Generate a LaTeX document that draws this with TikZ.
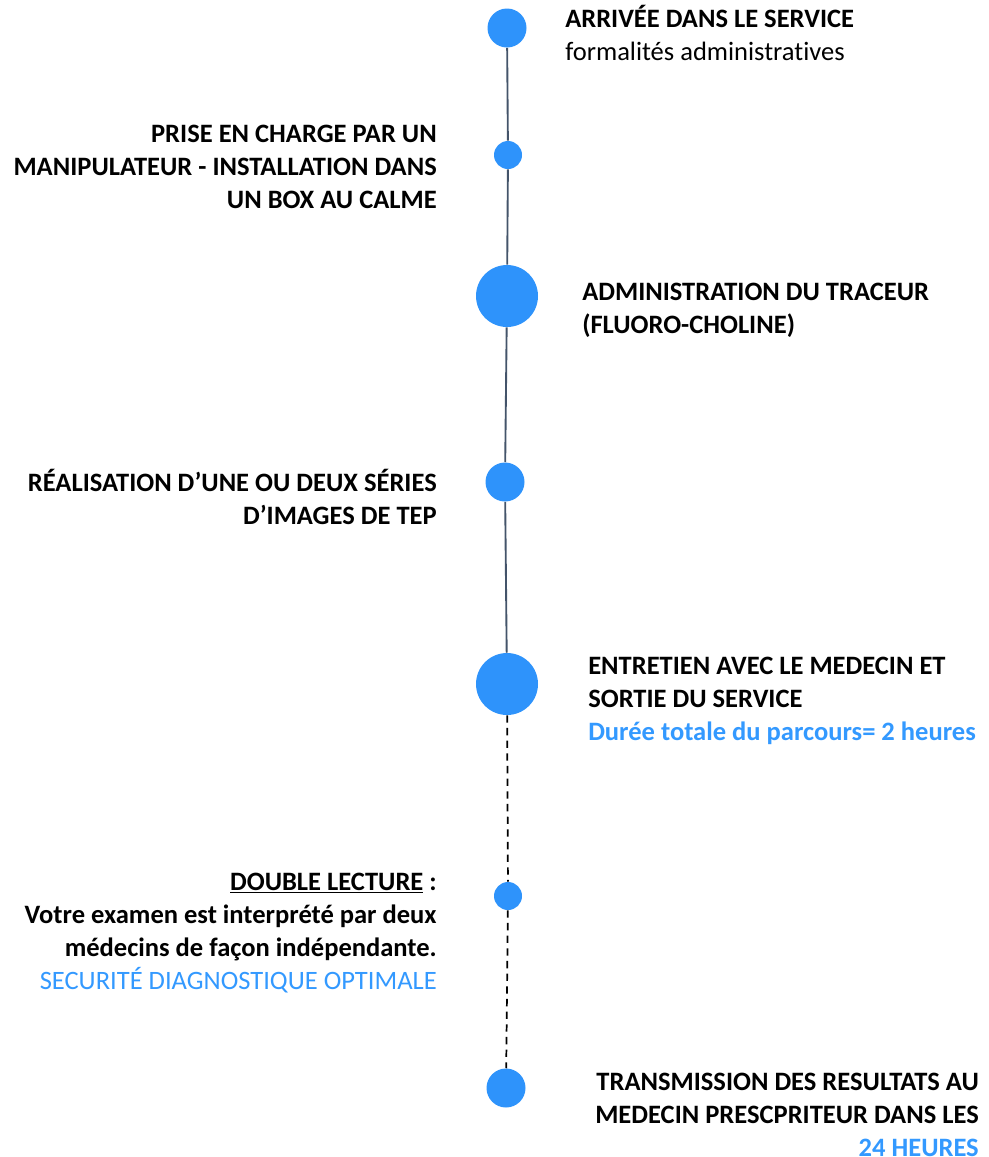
\documentclass[tikz,border=0pt]{standalone}
\usepackage{fontspec}
\setmainfont{Carlito}[Ligatures=NoCommon]
\definecolor{dotblue}{HTML}{2E93FB}
\definecolor{txtblue}{HTML}{3399FF}
\definecolor{slate}{HTML}{44546A}
\begin{document}
\begin{tikzpicture}[x=0.75pt,y=-0.75pt,
  dot/.style={circle,fill=dotblue,draw=none,inner sep=0pt,minimum size=#1*0.75pt},
  lbl/.style={inner sep=0pt,font=\fontsize{19.9}{24.75}\selectfont},
  lblL/.style={lbl,align=left,anchor=north west},
  lblR/.style={lbl,align=right,anchor=north east},
  solidline/.style={draw=slate,line width=1.4pt},
  dashline/.style={draw=black,line width=1.3pt,dash pattern=on 5.5pt off 4pt}]
\useasboundingbox (0,0) rectangle (989,1157);
\node[dot=39] (d1) at (507,28) {};
\node[dot=28] (d2) at (508,155) {};
\node[dot=62] (d3) at (507,296) {};
\node[dot=39] (d4) at (505,482) {};
\node[dot=62] (d5) at (507,684) {};
\node[dot=28] (d6) at (508,896) {};
\node[dot=39] (d7) at (506,1088) {};
\draw[solidline] (d1) -- (d2);
\draw[solidline] (d2) -- (d3);
\draw[solidline] (d3) -- (d4);
\draw[solidline] (d4) -- (d5);
\draw[dashline] (d5) -- (d6);
\draw[dashline] (d6) -- (d7);

\node[lblL] (t1) at (565,5) {\textbf{ARRIVÉE DANS LE SERVICE}\\formalités administratives};
\node[lblR] (t2) at (437,125) {\bfseries PRISE EN CHARGE PAR UN\\\bfseries MANIPULATEUR - INSTALLATION DANS\\\bfseries UN BOX AU CALME};
\node[lblL] (t3) at (582,283) {\bfseries ADMINISTRATION DU TRACEUR\\\bfseries (FLUORO-CHOLINE)};
\node[lblR] (t4) at (437,469) {\bfseries RÉALISATION D’UNE OU DEUX SÉRIES\\\bfseries D’IMAGES DE TEP};
\node[lblL] (t5) at (588,657) {\bfseries ENTRETIEN AVEC LE MEDECIN ET\\\bfseries SORTIE DU SERVICE\\\bfseries\color{txtblue}Durée totale du parcours= 2 heures};
\node[lblR] (t6) at (437,873) {\bfseries\underline{DOUBLE LECTURE} :\\\bfseries Votre examen est interprété par deux\\\bfseries médecins de façon indépendante.\\\color{txtblue}SECURITÉ DIAGNOSTIQUE OPTIMALE};
\node[lblR] (t7) at (979,1073) {\bfseries TRANSMISSION DES RESULTATS AU\\\bfseries MEDECIN PRESCPRITEUR DANS LES\\\bfseries\color{txtblue}24 HEURES};
\end{tikzpicture}
\end{document}
